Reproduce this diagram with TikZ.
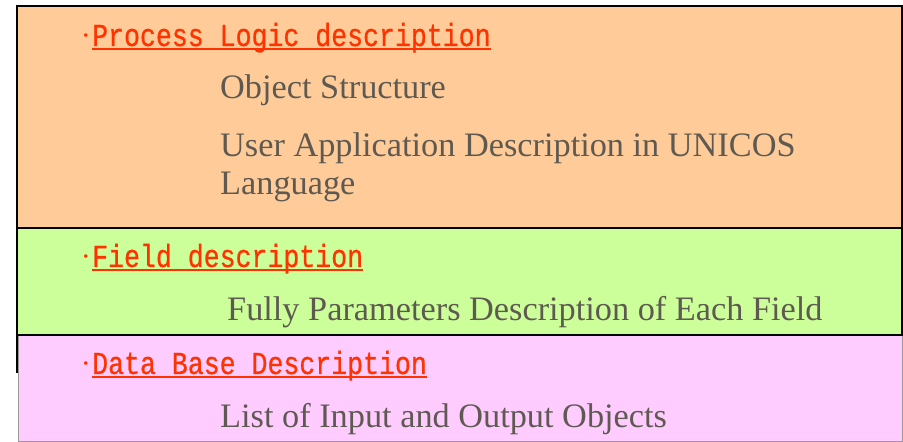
\documentclass[tikz,border=0pt]{standalone}
\usepackage{fontspec}
\setmainfont{Liberation Serif}
\newfontfamily\headfont[FakeStretch=0.83, FakeBold=0.6]{Liberation Mono}
\definecolor{panelorange}{HTML}{FFCC99}
\definecolor{panelgreen}{HTML}{CCFF99}
\definecolor{panelpink}{HTML}{FFCCFF}
\definecolor{headred}{HTML}{FF3300}
\definecolor{bodygray}{HTML}{5E5A52}
\tikzset{
  panel/.style={draw=black, line width=1.6bp},
  headtext/.style={anchor=base west, inner sep=0pt, text=headred,
    font=\headfont\fontsize{32bp}{32bp}\selectfont},
  bullet/.style={anchor=base east, inner sep=0pt, text=headred,
    font=\fontsize{30bp}{30bp}\selectfont},
  headline/.style={draw=headred, line width=1.3bp},
  bodytext/.style={anchor=base west, inner sep=0pt, text=bodygray,
    font=\fontsize{34.3bp}{38bp}\selectfont}
}
\begin{document}
\begin{tikzpicture}[x=1bp, y=-1bp]
  \useasboundingbox (0,0) rectangle (903,442);
  \fill[white] (0,0) rectangle (903,442);

  % panels
  \draw[fill=panelpink, draw=black!40, line width=1bp] (18,335) rectangle (902,441.5);
  \draw[panel, fill=panelorange] (17,6) rectangle (902,228);
  \draw[panel, fill=panelgreen] (17,228) rectangle (902,335);
  \draw[panel] (17,335) -- (17,373);

  % process logic panel
  \node[bullet] (b1) at (91,46) {·};
  \node[headtext] (h1) at (92,46) {Process Logic description};
  \draw[headline] ([yshift=-3bp]h1.base west) -- ([yshift=-3bp]h1.base east);
  \node[bodytext] (t1) at (220,99) {Object Structure};
  \node[bodytext] (t2) at (220,157) {User Application Description in UNICOS};
  \node[bodytext] (t3) at (220,195) {Language};

  % field panel
  \node[bullet] (b2) at (91,267) {·};
  \node[headtext] (h2) at (92,267) {Field description};
  \draw[headline] ([yshift=-3bp]h2.base west) -- ([yshift=-3bp]h2.base east);
  \node[bodytext] (t4) at (227,321) {Fully Parameters Description of Each Field};

  % data base panel
  \node[bullet] (b3) at (91,374) {·};
  \node[headtext] (h3) at (92,374) {Data Base Description};
  \draw[headline] ([yshift=-3bp]h3.base west) -- ([yshift=-3bp]h3.base east);
  \node[bodytext] (t5) at (220,427) {List of Input and Output Objects};
\end{tikzpicture}
\end{document}
